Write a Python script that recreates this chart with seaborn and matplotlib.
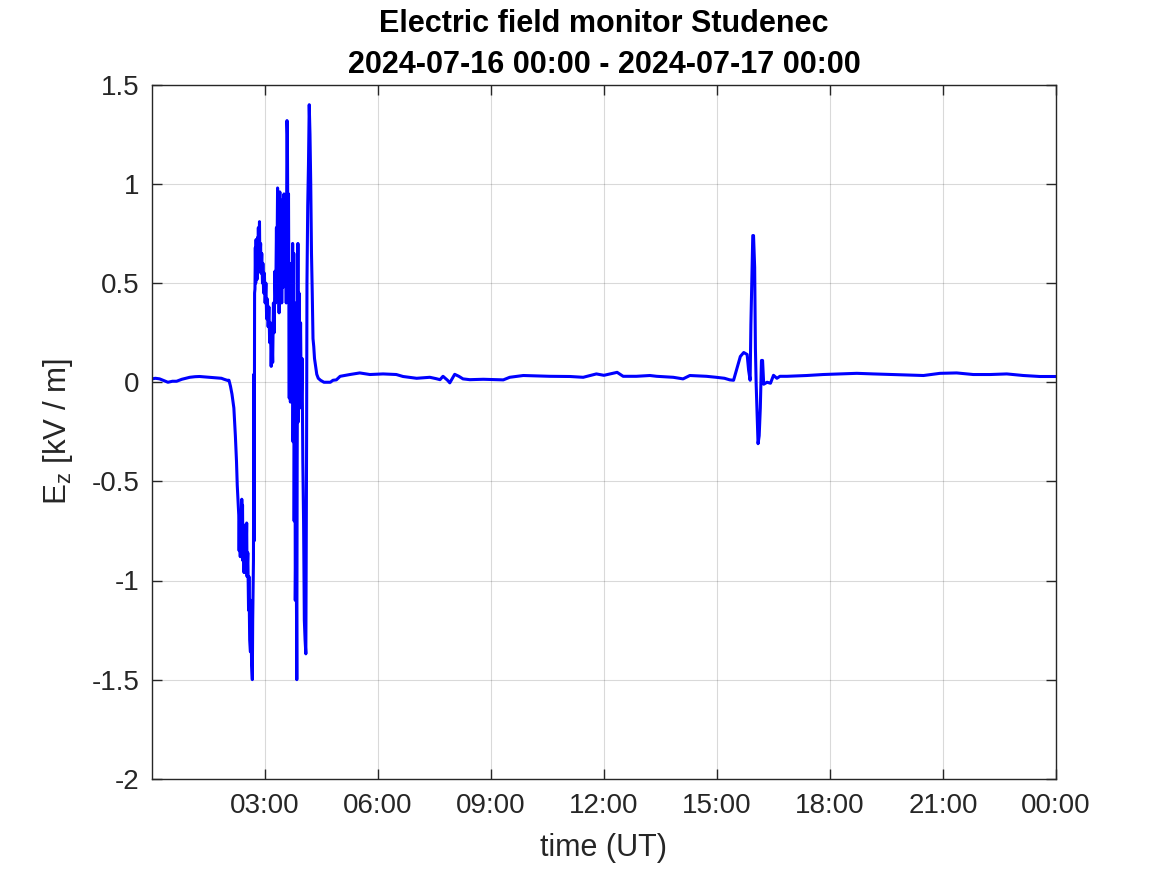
import matplotlib
matplotlib.use("Agg")
import matplotlib.pyplot as plt
import seaborn as sns
import pandas as pd

# ---- data (hours since 2024-07-16 00:00 UT, Ez in kV/m) ----
hours_quiet_am = [0.00, 0.10, 0.21, 0.30, 0.43, 0.55, 0.66, 0.80, 1.01, 1.15, 1.27, 1.40,
                  1.55, 1.72, 1.85, 1.92, 2.00]
ez_quiet_am = [0.017, 0.02, 0.017, 0.01, 0.0, 0.005, 0.005, 0.015, 0.025, 0.028, 0.029, 0.027,
               0.025, 0.022, 0.02, 0.015, 0.01]

hours_storm = [2.05, 2.09, 2.13, 2.18, 2.20, 2.22, 2.25, 2.27, 2.29, 2.31, 2.32, 2.33, 2.35, 2.36,
               2.38, 2.39, 2.40, 2.41, 2.42, 2.44, 2.45, 2.46, 2.48, 2.49, 2.50, 2.52, 2.53, 2.55,
               2.57, 2.58, 2.60, 2.62, 2.63, 2.65, 2.67, 2.68, 2.70, 2.71, 2.72, 2.73, 2.74, 2.75,
               2.76, 2.77, 2.78, 2.79, 2.80, 2.81, 2.82, 2.83, 2.84, 2.86, 2.87, 2.89, 2.90, 2.92,
               2.94, 2.95, 2.97, 2.99, 3.01, 3.03, 3.05, 3.07, 3.09, 3.11, 3.13, 3.15, 3.17, 3.19,
               3.21, 3.23, 3.25, 3.27, 3.29, 3.31, 3.32, 3.34, 3.35, 3.37, 3.38, 3.40, 3.42, 3.44,
               3.45, 3.47, 3.49, 3.51, 3.53, 3.55, 3.57, 3.59, 3.60, 3.62, 3.63, 3.65, 3.66, 3.68,
               3.70, 3.72, 3.74, 3.75, 3.77, 3.78, 3.80, 3.81, 3.83, 3.85, 3.86, 3.88, 3.89, 3.91,
               3.93, 3.95, 3.97, 3.99, 4.01, 4.03, 4.05, 4.07, 4.09, 4.10, 4.11, 4.12, 4.14, 4.16,
               4.18, 4.20, 4.22, 4.24, 4.26, 4.28, 4.30, 4.32, 4.35, 4.38, 4.42, 4.48, 4.57, 4.74]
ez_storm = [0.01, -0.02, -0.06, -0.13, -0.20, -0.27, -0.40, -0.52, -0.60, -0.67, -0.85, -0.70,
            -0.88, -0.68, -0.84, -0.59, -0.78, -0.62, -0.90, -0.72, -0.96, -0.78, -0.96, -0.72,
            -0.92, -0.71, -0.98, -0.86, -1.15, -0.98, -1.30, -1.36, -1.10, -1.42, -1.50, -1.20,
            -0.90, 0.04, -0.80, 0.45, 0.47, 0.68, 0.50, 0.72, 0.55, 0.70, 0.52, 0.73, 0.58, 0.78,
            0.62, 0.81, 0.60, 0.70, 0.55, 0.65, 0.50, 0.60, 0.45, 0.55, 0.40, 0.50, 0.32, 0.42,
            0.28, 0.38, 0.20, 0.30, 0.08, 0.25, 0.10, 0.40, 0.25, 0.56, 0.40, 0.78, 0.50, 0.98,
            0.55, 0.80, 0.35, 0.96, 0.45, 0.85, 0.40, 0.92, 0.48, 0.95, 0.55, 0.92, 0.40, 1.32,
            1.25, 0.50, 0.95, -0.08, 0.60, -0.10, 0.12, -0.05, 0.70, -0.30, 0.65, -0.70, 0.40,
            -1.10, -0.60, -1.50, -0.40, 0.70, -0.20, 0.45, -0.10, 0.30, -0.13, 0.12, -0.40, -0.70,
            -1.20, -1.30, -1.37, -0.90, -0.30, 0.50, 0.89, 1.10, 1.40, 1.25, 1.00, 0.65, 0.45,
            0.22, 0.18, 0.12, 0.08, 0.04, 0.02, 0.01, 0.00, 0.00]

hours_quiet_pm = [4.81, 4.90, 5.00, 5.26, 5.52, 5.79, 6.14, 6.49, 6.67, 7.03, 7.38, 7.55, 7.65,
                  7.73, 7.85, 7.91, 8.04, 8.15, 8.26, 8.44, 8.80, 9.33, 9.50, 9.86, 10.56, 11.10,
                  11.45, 11.80, 12.00, 12.24, 12.35, 12.51, 12.86, 13.22, 13.40, 13.84, 14.10,
                  14.28, 14.72, 14.98, 15.20, 15.34, 15.44]
ez_quiet_pm = [0.01, 0.012, 0.03, 0.039, 0.047, 0.039, 0.042, 0.039, 0.029, 0.02, 0.025, 0.018,
               0.013, 0.03, 0.01, -0.003, 0.04, 0.03, 0.017, 0.013, 0.015, 0.012, 0.025, 0.034,
               0.03, 0.029, 0.025, 0.042, 0.035, 0.045, 0.05, 0.03, 0.03, 0.034, 0.03, 0.025,
               0.017, 0.034, 0.03, 0.025, 0.02, 0.012, 0.01]

hours_event = [15.53, 15.62, 15.71, 15.80, 15.84, 15.88, 15.90, 15.95, 15.97, 16.00, 16.02, 16.04,
               16.06, 16.09, 16.12, 16.15, 16.18, 16.21, 16.24, 16.33, 16.42, 16.50, 16.59]
ez_event = [0.07, 0.13, 0.15, 0.14, 0.06, 0.01, 0.29, 0.74, 0.74, 0.58, 0.17, -0.01, -0.13,
            -0.31, -0.27, -0.13, 0.11, 0.11, -0.01, 0.0, -0.005, 0.035, 0.02]

hours_evening = [16.67, 16.86, 17.38, 17.82, 18.26, 18.71, 19.15, 19.68, 20.03, 20.48, 20.92,
                 21.36, 21.80, 22.25, 22.69, 23.13, 23.57, 24.00]
ez_evening = [0.03, 0.03, 0.034, 0.039, 0.042, 0.045, 0.042, 0.039, 0.037, 0.034, 0.045, 0.047,
              0.039, 0.039, 0.042, 0.034, 0.029, 0.029]

x_ticks = [3, 6, 9, 12, 15, 18, 21, 24]
x_tick_labels = ["03:00", "06:00", "09:00", "12:00", "15:00", "18:00", "21:00", "00:00"]
y_ticks = [-2, -1.5, -1, -0.5, 0, 0.5, 1, 1.5]
y_tick_labels = ["-2", "-1.5", "-1", "-0.5", "0", "0.5", "1", "1.5"]

title_text = "Electric field monitor Studenec\n2024-07-16 00:00 - 2024-07-17 00:00"

# ---- build frame ----
hours = hours_quiet_am + hours_storm + hours_quiet_pm + hours_event + hours_evening
ez = ez_quiet_am + ez_storm + ez_quiet_pm + ez_event + ez_evening
df = pd.DataFrame({"hours": hours, "Ez": ez})

# ---- styling ----
sns.set_theme(style="ticks")
plt.rcParams["font.family"] = ["Liberation Sans", "DejaVu Sans"]
axis_col = "#262626"

fig = plt.figure(figsize=(11.67, 8.75), dpi=100)
ax = fig.add_axes([0.13, 0.11, 0.775, 0.793])

sns.lineplot(data=df, x="hours", y="Ez", ax=ax, color=(0, 0, 1), linewidth=2.2,
             estimator=None, sort=False)

ax.set_xlim(0, 24)
ax.set_ylim(-2, 1.5)
ax.set_xticks(x_ticks)
ax.set_xticklabels(x_tick_labels)
ax.set_yticks(y_ticks)
ax.set_yticklabels(y_tick_labels)

ax.grid(True, color="#000000", alpha=0.15, linewidth=0.8)
ax.set_axisbelow(True)
for s in ax.spines.values():
    s.set_visible(True)
    s.set_color(axis_col)
    s.set_linewidth(1.0)
ax.tick_params(axis="x", pad=10.5)
ax.tick_params(axis="y", pad=9)
ax.tick_params(axis="both", direction="in", length=7, width=1.0, colors=axis_col,
               labelsize=20, top=True, right=True)
for lab in ax.get_xticklabels() + ax.get_yticklabels():
    lab.set_color(axis_col)

ax.set_xlabel("time (UT)", fontsize=22, color=axis_col, labelpad=10)
ax.set_ylabel(r"E$_\mathregular{z}$ [kV / m]", fontsize=22.5, color=axis_col, labelpad=12)
ax.set_title(title_text, fontsize=22, fontweight="bold", color="black",
             linespacing=1.5, pad=8.5)

fig.savefig("out.png", dpi=100)
